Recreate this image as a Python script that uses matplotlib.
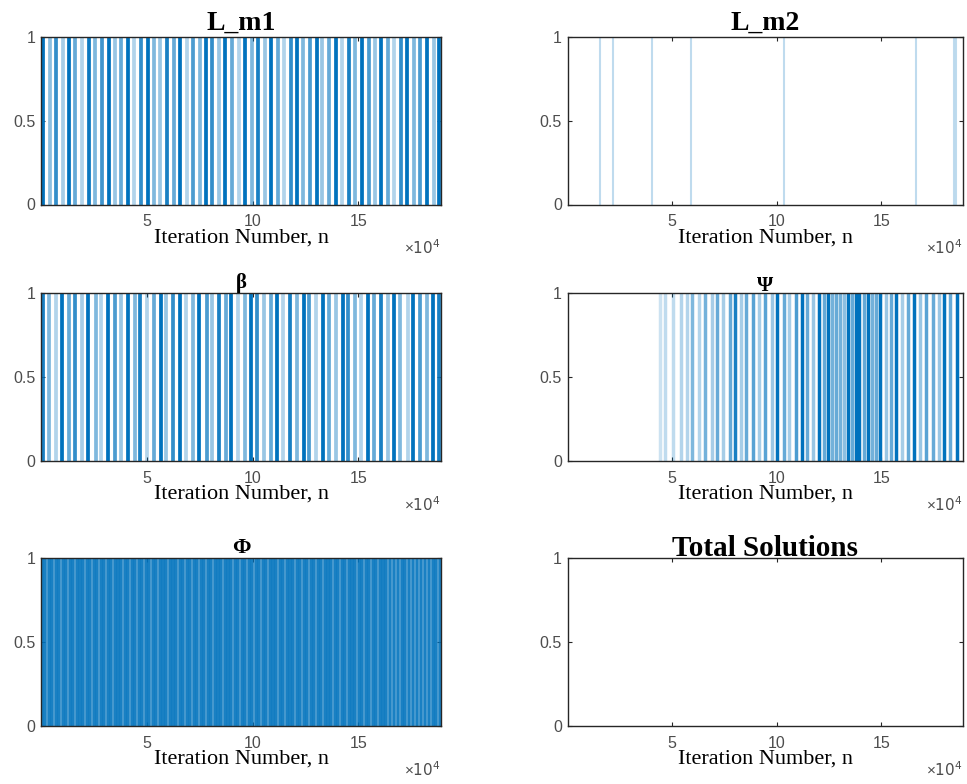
"""Binary activity maps of the design variables over the iteration history."""

import matplotlib

matplotlib.use("Agg")
import matplotlib.pyplot as plt
from matplotlib.colors import to_rgba
import numpy as np


BLUE = "#0072BD"

# iteration positions (x 1e4) where each variable is active, with line intensity
lm1_pos = [0.10, 0.42, 0.70, 1.05, 1.30, 1.62, 1.95, 2.25, 2.55, 2.90,
           3.20, 3.48, 3.80, 4.12, 4.40, 4.72, 5.05, 5.35, 5.62, 5.95,
           6.28, 6.55, 6.88, 7.20, 7.50, 7.80, 8.10, 8.42, 8.70, 9.02,
           9.35, 9.62, 9.95, 10.25, 10.58, 10.85, 11.18, 11.48, 11.80, 12.10,
           12.40, 12.70, 13.02, 13.30, 13.62, 13.95, 14.22, 14.55, 14.85, 15.15,
           15.48, 15.78, 16.05, 16.38, 16.70, 17.00, 17.30, 17.62, 17.92, 18.25,
           18.55, 18.80]
lm1_alpha = [1.0, 0.45, 0.8, 0.35, 1.0, 0.6, 0.3, 0.95, 0.5, 0.75,
             1.0, 0.4, 0.6, 1.0, 0.3, 0.8, 1.0, 0.5, 0.4, 0.9,
             0.6, 1.0, 0.3, 0.7, 0.5, 1.0, 0.8, 0.4, 1.0, 0.6,
             0.3, 1.0, 0.5, 0.9, 0.4, 1.0, 0.6, 0.3, 0.8, 1.0,
             0.5, 0.7, 1.0, 0.4, 0.6, 1.0, 0.3, 0.9, 0.5, 1.0,
             0.7, 0.4, 1.0, 0.6, 0.3, 0.8, 1.0, 0.5, 0.7, 1.0,
             0.4, 1.0]

lm2_pos = [1.53, 2.19, 4.02, 5.92, 10.33, 16.66, 18.46, 18.55]
lm2_alpha = [0.25, 0.25, 0.25, 0.25, 0.25, 0.25, 0.25, 0.25]

beta_pos = [0.08, 0.38, 0.72, 1.00, 1.33, 1.60, 1.92, 2.22, 2.58, 2.85,
            3.18, 3.50, 3.78, 4.10, 4.45, 4.70, 5.02, 5.32, 5.65, 5.92,
            6.25, 6.58, 6.85, 7.18, 7.48, 7.82, 8.08, 8.40, 8.72, 9.00,
            9.32, 9.65, 9.92, 10.22, 10.55, 10.88, 11.15, 11.45, 11.78, 12.08,
            12.42, 12.68, 13.00, 13.32, 13.60, 13.92, 14.25, 14.52, 14.82, 15.12,
            15.45, 15.75, 16.08, 16.40, 16.68, 16.98, 17.32, 17.60, 17.90, 18.22,
            18.52, 18.82]
beta_alpha = [0.9, 0.5, 0.3, 1.0, 0.6, 0.8, 0.35, 1.0, 0.5, 0.3,
              1.0, 0.7, 0.4, 1.0, 0.5, 0.9, 0.3, 0.6, 1.0, 0.4,
              0.8, 1.0, 0.3, 0.5, 1.0, 0.7, 0.4, 0.9, 0.6, 1.0,
              0.3, 0.5, 1.0, 0.8, 0.4, 0.6, 1.0, 0.3, 0.9, 0.5,
              1.0, 0.7, 0.3, 1.0, 0.6, 0.4, 1.0, 0.8, 0.5, 0.3,
              1.0, 0.6, 0.9, 0.4, 1.0, 0.5, 0.3, 1.0, 0.7, 0.5,
              1.0, 0.9]

psi_pos = [4.40, 4.65, 5.05, 5.40, 5.70, 5.95, 6.30, 6.55, 6.90, 7.15,
           7.45, 7.75, 8.00, 8.30, 8.55, 8.85, 9.15, 9.45, 9.75, 10.00,
           10.35, 10.60, 10.90, 11.20, 11.45, 11.75, 12.00, 12.25, 12.45, 12.65,
           12.85, 13.00, 13.20, 13.40, 13.60, 13.80, 13.95, 14.15, 14.35, 14.55,
           14.75, 14.95, 15.20, 15.45, 15.70, 16.00, 16.25, 16.55, 16.85, 17.15,
           17.45, 17.75, 18.00, 18.30, 18.60]
psi_alpha = [0.2, 0.25, 0.25, 0.3, 0.3, 0.5, 0.3, 0.55, 0.35, 0.6,
             0.35, 0.6, 0.9, 0.35, 0.6, 0.65, 0.35, 0.65, 0.4, 1.0,
             0.6, 0.35, 0.7, 1.0, 0.6, 0.4, 1.0, 0.6, 1.0, 0.55,
             0.6, 0.55, 0.45, 1.0, 0.6, 1.0, 1.0, 0.6, 1.0, 0.55,
             0.6, 1.0, 0.4, 0.6, 1.0, 0.35, 0.6, 1.0, 0.4, 0.65,
             0.6, 0.4, 1.0, 0.6, 1.0]

phi_pos = [0.05, 0.20, 0.38, 0.52, 0.70, 0.85, 1.02, 1.18, 1.35, 1.50,
           1.68, 1.84, 2.00, 2.17, 2.33, 2.50, 2.65, 2.82, 2.98, 3.15,
           3.30, 3.48, 3.64, 3.80, 3.96, 4.13, 4.28, 4.45, 4.62, 4.78,
           4.94, 5.10, 5.27, 5.43, 5.60, 5.75, 5.92, 6.08, 6.25, 6.40,
           6.57, 6.73, 6.90, 7.05, 7.22, 7.38, 7.55, 7.70, 7.87, 8.03,
           8.20, 8.35, 8.52, 8.68, 8.85, 9.00, 9.17, 9.33, 9.50, 9.66,
           9.82, 9.98, 10.15, 10.30, 10.47, 10.63, 10.80, 10.95, 11.12, 11.28,
           11.45, 11.60, 11.77, 11.93, 12.10, 12.25, 12.42, 12.58, 12.75, 12.90,
           13.07, 13.23, 13.40, 13.55, 13.72, 13.88, 14.05, 14.20, 14.37, 14.53,
           14.70, 14.85, 15.02, 15.18, 15.35, 15.50, 15.67, 15.83, 16.00, 16.15,
           16.32, 16.50, 16.68, 16.85, 17.05, 17.22, 17.40, 17.58, 17.78, 17.95,
           18.15, 18.32, 18.50, 18.68, 18.85]
phi_alpha = [0.9] * len(phi_pos)

total_pos = []
total_alpha = []

titles = ["L_m1", "L_m2", "β", "Ψ", "Φ", "Total Solutions"]
title_sizes = [20, 20, 15, 15, 16, 21]
title_pads = [5, 5, 4, 2, 3.5, 2]
line_widths = [2.7, 1.5, 2.7, 2.5, 2.6, 2.0]
series = [(lm1_pos, lm1_alpha), (lm2_pos, lm2_alpha), (beta_pos, beta_alpha),
          (psi_pos, psi_alpha), (phi_pos, phi_alpha), (total_pos, total_alpha)]

N_ITER = 1.89e5
SCALE = 1e4

# axes boxes in pixels (left, top, right, bottom) for a 967x784 canvas
W, H = 967, 784
col_x = [(41, 441), (567.5, 963)]
row_y = [(37, 204.5), (293.3, 461), (558.3, 726)]


def main() -> int:
    plt.rcParams["mathtext.fontset"] = "custom"
    plt.rcParams["mathtext.rm"] = "Liberation Sans"
    fig = plt.figure(figsize=(W / 100, H / 100), dpi=100)

    for i, (title, (pos, alpha)) in enumerate(zip(titles, series)):
        r, c = divmod(i, 2)
        x0, x1 = col_x[c]
        y0, y1 = row_y[r]
        ax = fig.add_axes([x0 / W, 1 - y1 / H, (x1 - x0) / W, (y1 - y0) / H])
        if pos:
            colors = [to_rgba(BLUE, a) for a in alpha]
            ax.vlines(np.asarray(pos) * SCALE, 0, 1, colors=colors,
                      linewidth=line_widths[i])
        ax.set_xlim(0, N_ITER)
        ax.set_ylim(0, 1)
        ax.set_xticks([5e4, 10e4, 15e4])
        ax.set_xticklabels(["5", "10", "15"])
        ax.set_yticks([0, 0.5, 1])
        ax.set_yticklabels(["0", "0.5", "1"])
        ax.tick_params(direction="in", top=True, right=True, length=3, width=0.8,
                       color="#262626", labelsize=11.5, labelcolor="#4d4d4d")
        ax.tick_params(axis="x", pad=7)
        ax.tick_params(axis="y", pad=4)
        for label in ax.get_xticklabels() + ax.get_yticklabels():
            label.set_family("Liberation Sans")
        for spine in ax.spines.values():
            spine.set_color("#262626")
            spine.set_linewidth(1.0)
            spine.set_zorder(3)
        ax.set_title(title, fontsize=title_sizes[i], fontweight="bold",
                     family="Liberation Serif", pad=title_pads[i])
        ax.set_xlabel("Iteration Number, n", fontsize=16, family="Liberation Serif")
        ax.xaxis.set_label_coords(0.5, -0.2)
        ax.xaxis.label.set_va("center")
        ax.text(1.0, -0.26, r"$\times\mathregular{10^{4}}$", transform=ax.transAxes,
                ha="right", va="center", fontsize=11, color="#4d4d4d")

    fig.savefig("out.png", dpi=100)
    plt.close(fig)
    return 0


if __name__ == "__main__":
    raise SystemExit(main())
